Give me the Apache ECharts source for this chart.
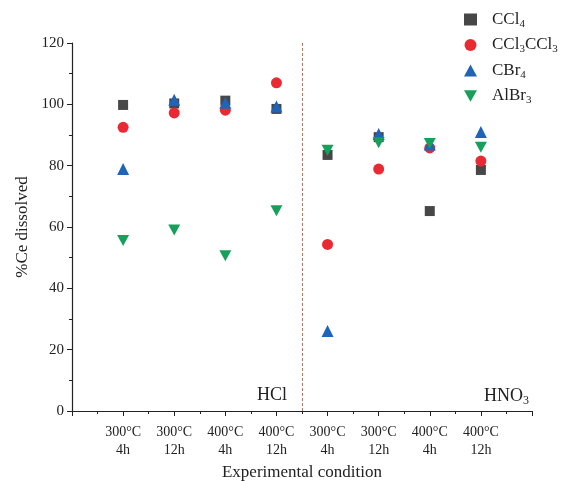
<!DOCTYPE html>
<html><head><meta charset="utf-8">
<script src="https://cdn.jsdelivr.net/npm/echarts@6/dist/echarts.min.js"></script>
<style>html,body{margin:0;padding:0;background:#fff}#c{width:571px;height:481px}</style>
</head><body><div id="c"></div>
<script>
const categories = ['300°C\n4h','300°C\n12h','400°C\n4h','400°C\n12h','300°C\n4h','300°C\n12h','400°C\n4h','400°C\n12h'];
const xPositions = [1,2,3,4,5,6,7,8];
const ccl4 = [99.8, 100.3, 101.2, 98.5, 83.5, 89.3, 65.2, 78.6];
const ccl3ccl3 = [92.5, 97.2, 98.1, 107.0, 54.3, 78.9, 85.8, 81.5];
const cbr4 = [78.9, 101.5, 100.5, 99.3, 26.1, 90.3, 86.9, 91.0];
const albr3 = [55.6, 59.0, 50.6, 65.3, 85.0, 87.5, 87.2, 86.0];
const yTicks = [0,20,40,60,80,100,120];

const font = 'Liberation Serif';
function pts(arr){ return arr.map((v,i)=>[xPositions[i], v]); }
const rich = {
  n:{fontFamily:font,fontSize:17,color:'#222'},
  s:{fontFamily:font,fontSize:11,color:'#222',verticalAlign:'bottom',padding:[9,0,0,0]}
};
const names = {
  'CCl4':'{n|CCl}{s|4}',
  'CCl3CCl3':'{n|CCl}{s|3}{n|CCl}{s|3}',
  'CBr4':'{n|CBr}{s|4}',
  'AlBr3':'{n|AlBr}{s|3}'
};
const chart = echarts.init(document.getElementById('c'));
chart.setOption({
  backgroundColor:'#fff',
  animation:false,
  grid:{left:72,right:39,top:43,bottom:70,outerBoundsMode:'none',containLabel:false},
  legend:{
    orient:'vertical', left:459, top:6, itemGap:7, itemWidth:13, itemHeight:12,
    formatter:n=>names[n],
    textStyle:{rich:rich,padding:[0,0,0,10]},
    data:[{name:'CCl4',icon:'rect'},{name:'CCl3CCl3',icon:'circle'},{name:'CBr4',icon:'triangle'},{name:'AlBr3',icon:'path://M0,0 L10,0 L5,9 Z'}]
  },
  xAxis:{
    type:'value', min:0, max:9, interval:1,
    name:'Experimental condition', nameLocation:'middle', nameGap:47,
    nameTextStyle:{fontFamily:font,fontSize:17,color:'#222'},
    axisLine:{lineStyle:{color:'#222',width:1.2}},
    axisTick:{inside:false,length:5,lineStyle:{color:'#222'}},
    minorTick:{show:true,splitNumber:2,length:3,lineStyle:{color:'#222'}},
    splitLine:{show:false},
    axisLabel:{fontFamily:font,fontSize:14,color:'#222',lineHeight:18,margin:12,
      formatter:v=>(v>=1&&v<=8)?categories[v-1]:''}
  },
  yAxis:{
    type:'value', min:0, max:120, interval:20,
    name:'%Ce dissolved', nameLocation:'middle', nameGap:40,
    nameTextStyle:{fontFamily:font,fontSize:17,color:'#222'},
    axisLine:{show:true,lineStyle:{color:'#222',width:1.2}},
    axisTick:{show:true,length:5,lineStyle:{color:'#222'}},
    minorTick:{show:true,splitNumber:2,length:3,lineStyle:{color:'#222'}},
    splitLine:{show:false},
    axisLabel:{fontFamily:font,fontSize:15,color:'#222',margin:8,
      formatter:v=>yTicks.includes(v)?String(v):''}
  },
  series:[
    {name:'CCl4',type:'scatter',symbol:'rect',symbolSize:10,itemStyle:{color:'#474747',opacity:1},data:pts(ccl4),z:2,
     markLine:{silent:true,symbol:'none',label:{show:false},lineStyle:{color:'#b07a6a',type:[3,2],width:1},data:[{xAxis:4.5}]}},
    {name:'CCl3CCl3',type:'scatter',symbol:'circle',symbolSize:11,itemStyle:{color:'#ea2a33',opacity:1},data:pts(ccl3ccl3),z:3},
    {name:'CBr4',type:'scatter',symbol:'triangle',symbolSize:12,itemStyle:{color:'#1f64b8',opacity:1},data:pts(cbr4),z:4},
    {name:'AlBr3',type:'scatter',symbol:'path://M0,0 L10,0 L5,9 Z',symbolSize:[12,11],itemStyle:{color:'#16a05c',opacity:1},data:pts(albr3),z:5}
  ],
  graphic:[
    {type:'text',left:257,top:386,style:{text:'HCl',fontFamily:font,fontSize:18,fill:'#222'}},
    {type:'text',left:484,top:387,style:{text:'{n|HNO}{s|3}',rich:{n:{fontFamily:font,fontSize:18,fill:'#222'},s:{fontFamily:font,fontSize:12,fill:'#222',padding:[10,0,0,0]}}}}
  ]
});
</script></body></html>
